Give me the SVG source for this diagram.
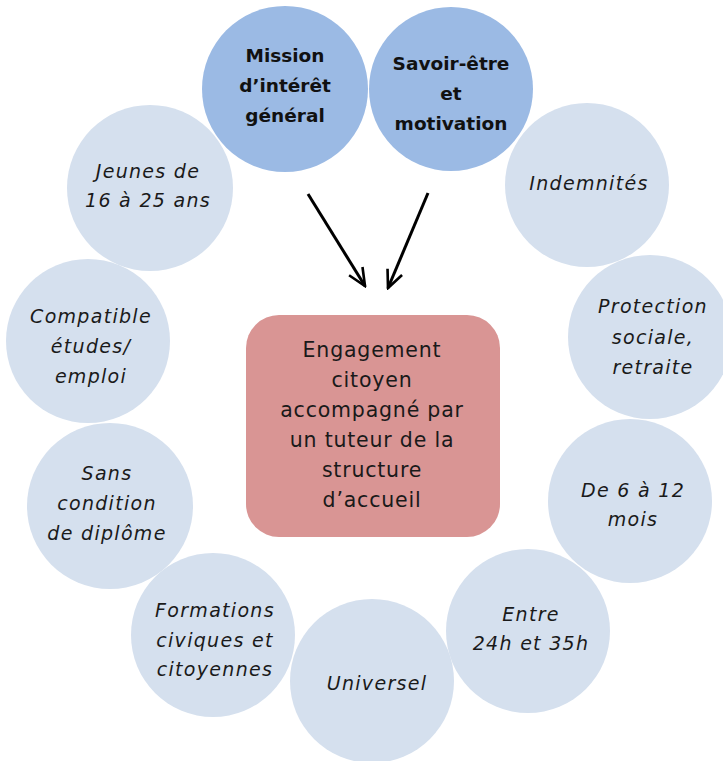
<svg xmlns="http://www.w3.org/2000/svg" width="723" height="761" viewBox="0 0 723 761">
<defs>
<style>
.lc{fill:#d5e0ee}
.bc{fill:#9bbae4}
.it{font-family:"DejaVu Sans","Liberation Sans",sans-serif;font-style:italic;font-size:19px;letter-spacing:1.3px;fill:#1a1a1a;text-anchor:middle}
.bd{font-family:"DejaVu Sans","Liberation Sans",sans-serif;font-weight:bold;font-size:18.5px;fill:#111;text-anchor:middle}
.ct{font-family:"DejaVu Sans","Liberation Sans",sans-serif;font-size:20.5px;letter-spacing:0.8px;fill:#1a1a1a;text-anchor:middle}
.arr{stroke:#000;stroke-width:3;fill:none}
</style>
<marker id="ah" viewBox="0 0 12 12" refX="11" refY="6" markerWidth="7" markerHeight="7" orient="auto" markerUnits="strokeWidth">
<path d="M1,1.5 L11,6 L1,10.5" fill="none" stroke="#000" stroke-width="1.5"/>
</marker>
</defs>
<rect width="723" height="761" fill="#fff"/>

<g id="mission">
<circle class="bc" cx="285" cy="89" r="83"/>
<text class="bd" x="285" y="62">Mission</text>
<text class="bd" x="285" y="92">d’intérêt</text>
<text class="bd" x="285" y="122">général</text>
</g>
<g id="savoir">
<circle class="bc" cx="451" cy="89" r="82"/>
<text class="bd" x="451" y="70">Savoir-être</text>
<text class="bd" x="451" y="100">et</text>
<text class="bd" x="451" y="130">motivation</text>
</g>
<g id="jeunes">
<circle class="lc" cx="150" cy="188" r="83"/>
<text class="it" x="148" y="178">Jeunes de</text>
<text class="it" x="148" y="207">16 à 25 ans</text>
</g>
<g id="indemnites">
<circle class="lc" cx="587" cy="185" r="82"/>
<text class="it" x="589" y="190">Indemnités</text>
</g>
<g id="compatible">
<circle class="lc" cx="88" cy="341" r="82"/>
<text class="it" x="91" y="323">Compatible</text>
<text class="it" x="91" y="353">études/</text>
<text class="it" x="91" y="383">emploi</text>
</g>
<g id="protection">
<circle class="lc" cx="650" cy="337" r="82"/>
<text class="it" x="653" y="313">Protection</text>
<text class="it" x="653" y="344">sociale,</text>
<text class="it" x="653" y="374">retraite</text>
</g>
<g id="sans">
<circle class="lc" cx="110" cy="506" r="83"/>
<text class="it" x="107" y="480">Sans</text>
<text class="it" x="107" y="510">condition</text>
<text class="it" x="107" y="540">de diplôme</text>
</g>
<g id="mois">
<circle class="lc" cx="630" cy="501" r="82"/>
<text class="it" x="633" y="497">De 6 à 12</text>
<text class="it" x="633" y="526">mois</text>
</g>
<g id="formations">
<circle class="lc" cx="213" cy="635" r="82"/>
<text class="it" x="215" y="617">Formations</text>
<text class="it" x="215" y="647">civiques et</text>
<text class="it" x="215" y="676">citoyennes</text>
</g>
<g id="entre">
<circle class="lc" cx="528" cy="631" r="82"/>
<text class="it" x="531" y="621">Entre</text>
<text class="it" x="531" y="650">24h et 35h</text>
</g>
<g id="universel">
<circle class="lc" cx="372" cy="681" r="82"/>
<text class="it" x="377" y="690">Universel</text>
</g>

<g id="engagement">
<rect x="246" y="315" width="254" height="222" rx="33" fill="#d99594"/>
<text class="ct" x="372" y="357">Engagement</text>
<text class="ct" x="372" y="387">citoyen</text>
<text class="ct" x="372" y="417">accompagné par</text>
<text class="ct" x="372" y="447">un tuteur de la</text>
<text class="ct" x="372" y="477">structure</text>
<text class="ct" x="372" y="507">d’accueil</text>
</g>

<g id="connectors">
<line class="arr" x1="308" y1="194" x2="365" y2="286" marker-end="url(#ah)"/>
<line class="arr" x1="428" y1="193" x2="388" y2="288" marker-end="url(#ah)"/>
</g>
</svg>
